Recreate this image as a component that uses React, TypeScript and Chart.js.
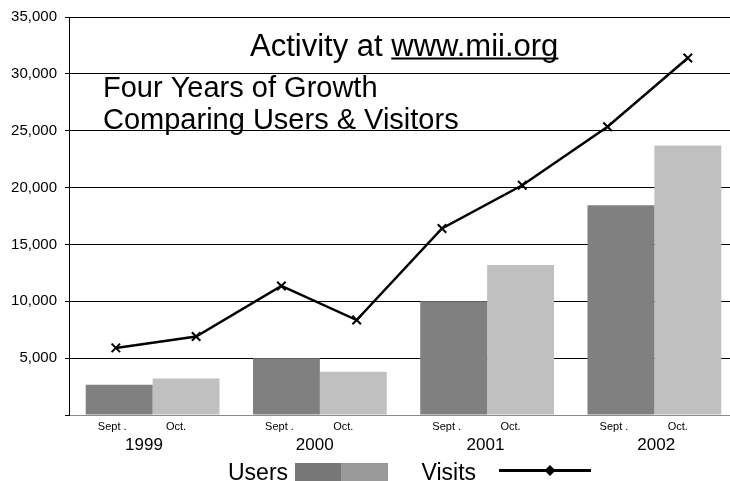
import React, { useEffect, useRef } from 'react';
import { Chart, registerables } from 'chart.js';

Chart.register(...registerables);

const FONT = '"Liberation Sans", Arial, Helvetica, sans-serif';

// ---- data ----
const years = ['1999', '2000', '2001', '2002'];
const monthLabels = ['Sept .', 'Oct.'];
const usersSept = [2650, 5000, 10000, 18450];
const usersOct = [3200, 3800, 13200, 23700];
// positions of the visit markers along the year axis (fractional category index)
const visitPositions = [-0.22, 0.26, 0.77, 1.22, 1.73, 2.21, 2.72, 3.2];
const visits = [5900, 6900, 11350, 8350, 16400, 20200, 25350, 31400];
const yMin = 0;
const yMax = 35000;
const yStep = 5000;
const titleMain = 'Activity at ';
const titleLink = 'www.mii.org';
const subtitleLines = ['Four Years of Growth', 'Comparing Users & Visitors'];
const legendUsers = 'Users';
const legendVisits = 'Visits';

const decorPlugin = {
  id: 'decor',
  afterDraw(chart: any) {
    const ctx: CanvasRenderingContext2D = chart.ctx;
    ctx.save();
    ctx.fillStyle = '#000';
    ctx.textBaseline = 'alphabetic';
    ctx.textAlign = 'left';

    // Title with underlined link
    ctx.font = `31px ${FONT}`;
    const tx = 250;
    const ty = 56;
    ctx.fillText(titleMain + titleLink, tx, ty);
    const w0 = ctx.measureText(titleMain).width;
    const w1 = ctx.measureText(titleLink).width;
    ctx.fillRect(tx + w0, ty + 1.5, w1, 2);

    // Subtitle
    ctx.font = `29px ${FONT}`;
    subtitleLines.forEach((s, i) => ctx.fillText(s, 103, 97 + 32 * i));

    // X labels (months + years)
    const m0 = chart.getDatasetMeta(0);
    const m1 = chart.getDatasetMeta(1);
    const xs = chart.scales.x;
    ctx.textAlign = 'center';
    years.forEach((yr, i) => {
      ctx.font = `11px ${FONT}`;
      ctx.fillText(monthLabels[0], m0.data[i].x - 7, 430);
      ctx.fillText(monthLabels[1], m1.data[i].x - 10, 430);
      ctx.font = `17px ${FONT}`;
      ctx.fillText(yr, xs.getPixelForValue(i) - 8.6 + 3.5 * i, 450);
    });

    // Legend
    ctx.textAlign = 'left';
    ctx.font = `23px ${FONT}`;
    ctx.fillText(legendUsers, 228, 479.5);
    ctx.fillStyle = '#777777';
    ctx.fillRect(295, 463, 46, 18);
    ctx.fillStyle = '#999999';
    ctx.fillRect(341, 463, 47, 18);
    ctx.fillStyle = '#000';
    ctx.fillText(legendVisits, 421.5, 479.5);
    ctx.strokeStyle = '#000';
    ctx.lineWidth = 3;
    ctx.beginPath();
    ctx.moveTo(499, 470.5);
    ctx.lineTo(591, 470.5);
    ctx.stroke();
    ctx.beginPath();
    ctx.moveTo(550, 465);
    ctx.lineTo(555.5, 470.5);
    ctx.lineTo(550, 476);
    ctx.lineTo(544.5, 470.5);
    ctx.closePath();
    ctx.fill();

    ctx.restore();
  },
};

export default function App() {
  const ref = useRef<HTMLCanvasElement>(null);

  useEffect(() => {
    if (!ref.current) return;
    const chart = new Chart(ref.current, {
      type: 'bar',
      data: {
        labels: years,
        datasets: [
          {
            label: 'Sept.',
            data: usersSept,
            backgroundColor: '#808080',
            borderWidth: 0,
            barPercentage: 1,
            categoryPercentage: 0.8,
            order: 2,
          } as any,
          {
            label: 'Oct.',
            data: usersOct,
            backgroundColor: '#c0c0c0',
            borderWidth: 0,
            barPercentage: 1,
            categoryPercentage: 0.8,
            order: 2,
          } as any,
          {
            type: 'line',
            label: 'Visits',
            parsing: false,
            data: visitPositions.map((x, i) => ({ x, y: visits[i] })),
            borderColor: '#000',
            borderWidth: 2.5,
            pointStyle: 'crossRot',
            pointRadius: 6,
            pointBorderWidth: 2,
            pointBorderColor: '#000',
            pointBackgroundColor: '#000',
            tension: 0,
            fill: false,
            order: 1,
          } as any,
        ],
      },
      options: {
        responsive: false,
        animation: false,
        layout: { padding: { top: 15, bottom: 66, left: 0, right: 0 } },
        plugins: {
          legend: { display: false },
          title: { display: false },
          tooltip: { enabled: false },
        },
        scales: {
          x: { type: 'category', display: false, offset: true },
          y: {
            min: yMin,
            max: yMax,
            ticks: {
              stepSize: yStep,
              color: '#000',
              padding: 8,
              font: { size: 15, family: FONT },
              callback: (v: any) => (Number(v) === 0 ? '' : Number(v).toLocaleString('en-US')),
            },
            grid: {
              color: (c: any) => (c.tick && c.tick.value === 0 ? '#8c8c8c' : '#000'),
              tickColor: '#000',
              lineWidth: 1,
              tickLength: 4,
              drawTicks: true,
            },
            border: { display: true, color: '#000', width: 1 },
            afterFit: (s: any) => {
              s.width = 69;
            },
          },
        } as any,
      },
      plugins: [decorPlugin],
    });
    return () => chart.destroy();
  }, []);

  return (
    <div
      style={{
        position: 'fixed',
        left: 0,
        top: 0,
        width: 730,
        height: 481,
        overflow: 'hidden',
        background: '#fff',
      }}
    >
      <canvas
        ref={ref}
        width={746}
        height={481}
        style={{ display: 'block', width: '746px', height: '481px', maxWidth: 'none' }}
      />
    </div>
  );
}
